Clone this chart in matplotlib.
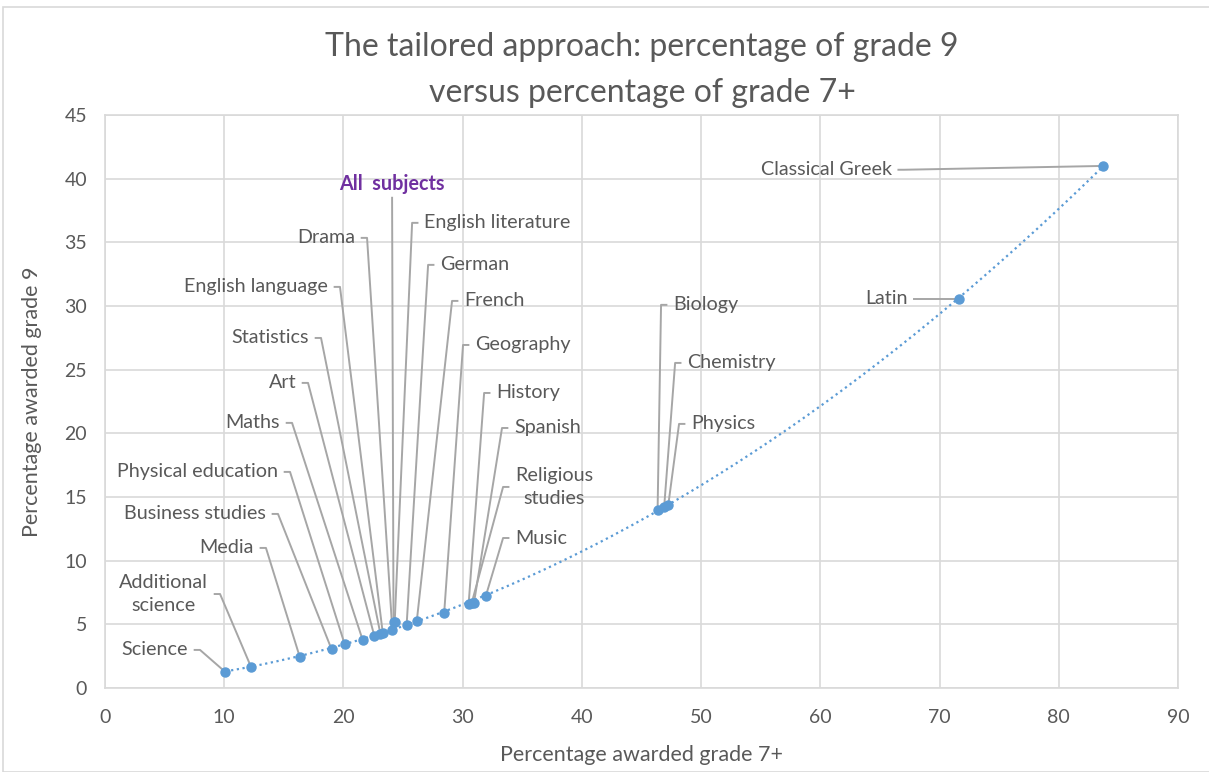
import numpy as np
import matplotlib
matplotlib.use("Agg")
import matplotlib.pyplot as plt

plt.rcParams['font.family'] = ['Lato', 'DejaVu Sans']

# ── data ──
subjects = ["Science", "Additional\nscience", "Media", "Business studies",
            "Physical education", "Maths", "Art", "Statistics",
            "English language", "Drama", "All  subjects", "English literature",
            "German", "French", "Geography", "History", "Spanish",
            "Religious\nstudies", "Music", "Biology", "Chemistry", "Physics",
            "Latin", "Classical Greek"]
pct_7plus = [10.1, 12.25, 16.35, 19.0, 20.1, 21.6, 22.6, 23.1, 23.3, 24.1,
             24.2, 24.3, 25.3, 26.15, 28.45, 30.5, 30.95, 30.75, 31.95,
             46.35, 46.9, 47.25, 71.6, 83.7]
pct_9 = [1.25, 1.65, 2.4, 3.05, 3.45, 3.8, 4.05, 4.25, 4.3, 4.55,
         5.15, 5.2, 4.95, 5.25, 5.9, 6.6, 6.7, 6.65, 7.25,
         14.0, 14.2, 14.4, 30.55, 41.0]

x_ticks = list(range(0, 91, 10))
y_ticks = list(range(0, 46, 5))

# ── label layout: elbow corner (data coords) and side of text ──
label_corner = [(7.97, 2.99, "L"), (9.65, 7.38, "L"), (13.5, 11.0, "L"),
                (14.51, 13.67, "L"), (15.52, 16.97, "L"), (15.69, 20.82, "L"),
                (17.03, 23.96, "L"), (18.12, 27.49, "L"), (19.71, 31.5, "L"),
                (21.98, 35.35, "L"), (24.08, 38.5, "T"), (25.76, 36.53, "R"),
                (27.1, 33.23, "R"), (29.11, 30.4, "R"), (30.03, 26.94, "R"),
                (31.8, 23.17, "R"), (33.3, 20.42, "R"), (33.39, 15.79, "R"),
                (33.39, 11.78, "R"), (46.64, 30.09, "R"), (47.82, 25.53, "R"),
                (48.15, 20.74, "R"), (68.3, 30.55, "L"), (67.0, 40.7, "L")]

TEXT = "#595959"
GRID = "#d9d9d9"
LEADER = "#a6a6a6"
BLUE = "#5b9bd5"
LABEL_FS = 14.2

fig = plt.figure(figsize=(12.09, 7.72), dpi=100)
ax = fig.add_axes([105 / 1209, 1 - 688 / 772, (1178 - 105) / 1209, (688 - 115) / 772])

# outer chart frame
fig.patches.append(plt.Rectangle((3 / 1209, 0), 1, 1 - 7 / 772, transform=fig.transFigure,
                                 fill=False, edgecolor=GRID, lw=1.2))

tick_len = 0.45
gap = 1.0
for name, px, py, (ex, ey, side) in zip(subjects, pct_7plus, pct_9, label_corner):
    if side == "T":
        ax.plot([px, ex], [py, ey], color=LEADER, lw=1.4, zorder=2)
        ax.text(ex, ey + 1.1, name, ha="center", va="center", fontsize=LABEL_FS,
                color="#7030a0", fontweight="bold")
        continue
    if side == "L":
        ax.plot([px, ex, ex - tick_len], [py, ey, ey], color=LEADER, lw=1.4, zorder=2)
        ax.text(ex - gap, ey, name, ha="right", va="center", fontsize=LABEL_FS,
                color=TEXT, multialignment="center", linespacing=1.45)
    else:
        ax.plot([px, ex, ex + tick_len], [py, ey, ey], color=LEADER, lw=1.4, zorder=2)
        ax.text(ex + gap, ey, name, ha="left", va="center", fontsize=LABEL_FS,
                color=TEXT, multialignment="center", linespacing=1.45)

# quadratic trendline through the points
coef = np.polyfit(pct_7plus, pct_9, 2)
xs = np.linspace(min(pct_7plus), max(pct_7plus), 200)
ax.plot(xs, np.polyval(coef, xs), color=BLUE, lw=1.6, ls=(0, (1, 1.6)), zorder=3)

ax.plot(pct_7plus, pct_9, "o", color=BLUE, ms=6.5, zorder=4)

ax.set_xlim(0, 90)
ax.set_ylim(0, 45)
ax.set_xticks(x_ticks)
ax.set_yticks(y_ticks)
ax.grid(True, color=GRID, lw=1.2)
ax.set_axisbelow(True)
for s in ax.spines.values():
    s.set_color(GRID)
    s.set_linewidth(1.2)
ax.tick_params(length=0, labelsize=14, labelcolor=TEXT)
ax.tick_params(axis="y", pad=13)
ax.tick_params(axis="x", pad=15)

ax.set_xlabel("Percentage awarded grade 7+", fontsize=15.5, color=TEXT, labelpad=14)
ax.set_ylabel("Percentage awarded grade 9", fontsize=15.5, color=TEXT, labelpad=16)

fig.text(642 / 1209, 1 - 47 / 772, "The tailored approach: percentage of grade 9",
         ha="center", va="center", fontsize=23, color=TEXT)
fig.text(642 / 1209, 1 - 93 / 772, "versus percentage of grade 7+",
         ha="center", va="center", fontsize=23, color=TEXT)

fig.savefig("out.png", dpi=100, facecolor="white")
